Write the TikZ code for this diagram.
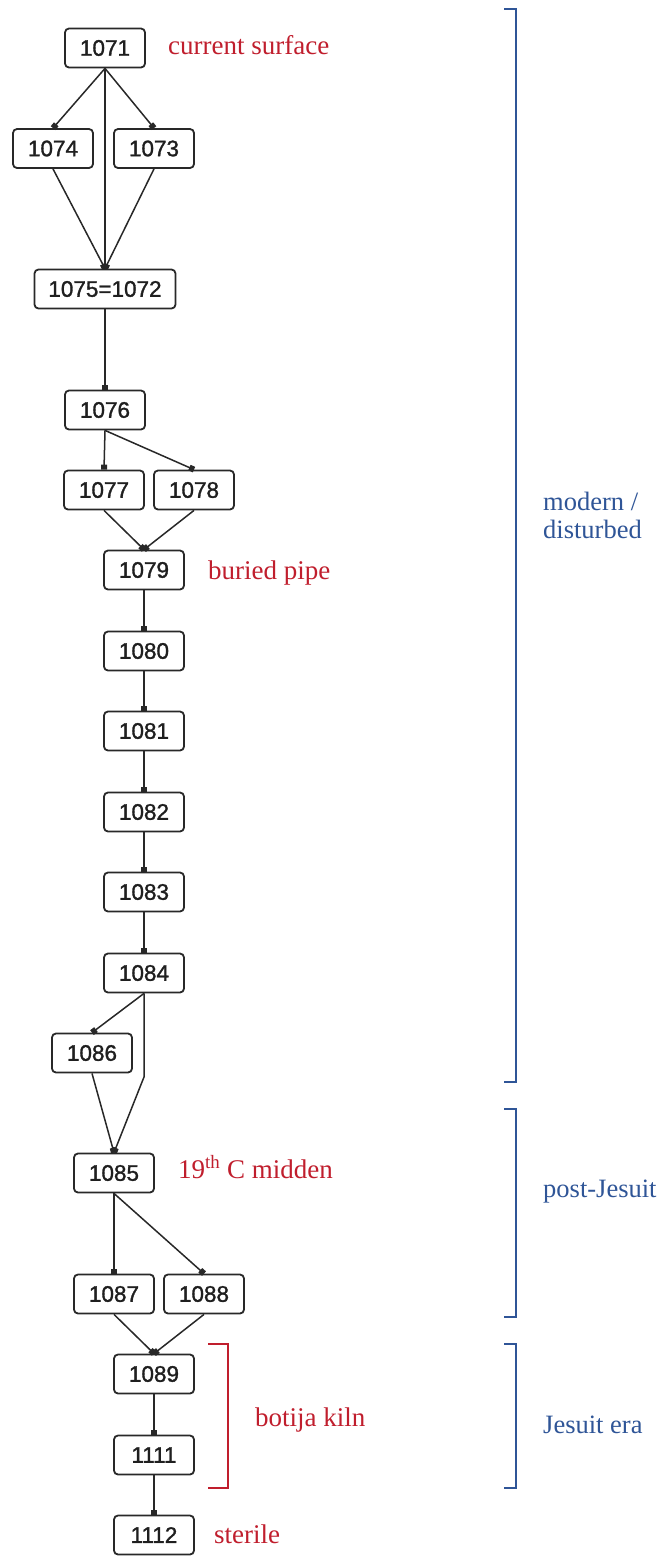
\documentclass[tikz,border=0pt]{standalone}
\usepackage{fontspec}
\setmainfont{Liberation Serif}
\newfontfamily\boxfont[AutoFakeBold=1.3]{Liberation Sans}
\usetikzlibrary{arrows.meta}
\definecolor{labred}{RGB}{192,30,45}
\definecolor{labblue}{RGB}{47,85,151}
\definecolor{boxline}{RGB}{40,40,40}
\begin{document}
\begin{tikzpicture}[x=1pt,y=-1pt,
  unit/.style={draw=boxline,line width=1.8pt,rounded corners=4pt,minimum width=80pt,minimum height=39pt,inner sep=0pt,font=\boxfont\bfseries\fontsize{22.5}{27}\selectfont,text=black!88},
  link/.style={draw=boxline,line width=1.5pt,-{Square[length=5pt,width=6pt]}},
  note/.style={anchor=base west,inner sep=0pt,text=labred,font=\fontsize{27}{31}\selectfont},
  period/.style={anchor=base west,inner sep=0pt,text=labblue,font=\fontsize{26.5}{31}\selectfont},
  bracket/.style={line width=2.6pt}
]
\useasboundingbox (0,0) rectangle (663,1558);

% units
\node[unit] (n1071) at (105,48) {1071};
\node[unit] (n1074) at (53,148.5) {1074};
\node[unit] (n1073) at (154,148.5) {1073};
\node[unit,minimum width=141pt] (n1075) at (105,289) {1075=1072};
\node[unit] (n1076) at (105,410) {1076};
\node[unit] (n1077) at (104,490) {1077};
\node[unit] (n1078) at (194,490) {1078};
\node[unit] (n1079) at (144,570) {1079};
\node[unit] (n1080) at (144,651) {1080};
\node[unit] (n1081) at (144,731) {1081};
\node[unit] (n1082) at (144,812) {1082};
\node[unit] (n1083) at (144,892) {1083};
\node[unit] (n1084) at (144,973) {1084};
\node[unit] (n1086) at (92,1053) {1086};
\node[unit] (n1085) at (114,1173) {1085};
\node[unit] (n1087) at (114,1294) {1087};
\node[unit] (n1088) at (204,1294) {1088};
\node[unit] (n1089) at (154,1374) {1089};
\node[unit] (n1111) at (154,1455) {1111};
\node[unit] (n1112) at (154,1535) {1112};

% connectors
\draw[link] (n1071.south) -- (n1074.north);
\draw[link] (n1071.south) -- (n1073.north);
\draw[link] (n1071.south) -- (n1075.north);
\draw[link] (n1074.south) -- (n1075.north);
\draw[link] (n1073.south) -- (n1075.north);
\draw[link] (n1075.south) -- (n1076.north);
\draw[link] (n1076.south) -- (n1077.north);
\draw[link] (n1076.south) -- (n1078.north);
\draw[link] (n1077.south) -- (n1079.north);
\draw[link] (n1078.south) -- (n1079.north);
\draw[link] (n1079.south) -- (n1080.north);
\draw[link] (n1080.south) -- (n1081.north);
\draw[link] (n1081.south) -- (n1082.north);
\draw[link] (n1082.south) -- (n1083.north);
\draw[link] (n1083.south) -- (n1084.north);
\draw[link] (n1084.south) -- (n1086.north);
\coordinate (bend) at (144,1077);
\draw[link] (n1084.south) -- (bend) -- (n1085.north);
\draw[link] (n1086.south) -- (n1085.north);
\draw[link] (n1085.south) -- (n1087.north);
\draw[link] (n1085.south) -- (n1088.north);
\draw[link] (n1087.south) -- (n1089.north);
\draw[link] (n1088.south) -- (n1089.north);
\draw[link] (n1089.south) -- (n1111.north);
\draw[link] (n1111.south) -- (n1112.north);

% red notes
\node[note] (lsurface) at (168,54) {current surface};
\node[note] (lpipe) at (208,579) {buried pipe};
\node[note] (lmidden) at (178,1178) {19\textsuperscript{th} C midden};
\node[note] (lkiln) at (255,1426) {botija kiln};
\node[note] (lsterile) at (214,1543) {sterile};
\draw[bracket,labred] (208,1344) -- (228,1344) -- (228,1488) -- (208,1488);

% periods
\draw[bracket,labblue] (504,9) -- (516,9) -- (516,1082) -- (504,1082);
\draw[bracket,labblue] (504,1109) -- (516,1109) -- (516,1317) -- (504,1317);
\draw[bracket,labblue] (504,1344) -- (516,1344) -- (516,1488) -- (504,1488);
\node[period] (lmodern) at (543,510) {modern /};
\node[period] (ldisturbed) at (543,538) {disturbed};
\node[period] (lpost) at (543,1197) {post-Jesuit};
\node[period] (ljesuit) at (543,1433) {Jesuit era};
\end{tikzpicture}
\end{document}
